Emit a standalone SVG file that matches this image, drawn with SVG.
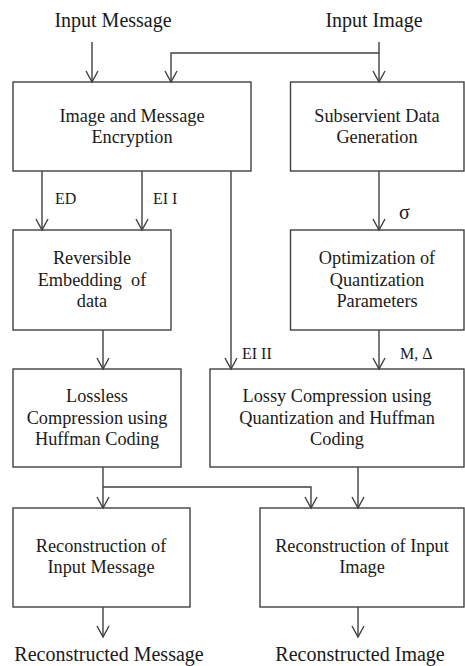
<svg xmlns="http://www.w3.org/2000/svg" width="465" height="666" viewBox="0 0 465 666" font-family="Liberation Serif, serif">
  <style>
    .box { fill: #ffffff; stroke: #404040; stroke-width: 1.4; }
    .wire { fill: none; stroke: #404040; stroke-width: 1.4; }
    .arrow { marker-end: url(#arr); }
    text { fill: #1a1a1a; font-family: "Liberation Serif", serif; }
    .lbl { font-size: 18.3px; text-anchor: middle; }
    .io { font-size: 20px; text-anchor: middle; }
    .tag { font-size: 16px; }
    .sigma { font-size: 20px; }
  </style>
  <defs>
    <marker id="arr" viewBox="-13 -7 15 14" markerWidth="15" markerHeight="14" refX="0" refY="0" orient="auto" markerUnits="userSpaceOnUse" overflow="visible">
      <path d="M-11,-6 L0,0 L-11,6" fill="none" stroke="#404040" stroke-width="1.4"/>
    </marker>
  </defs>

  <rect width="465" height="666" fill="#ffffff"/>

  <!-- inputs -->
  <g id="input-message"><text class="io" x="113" y="27">Input Message</text></g>
  <g id="input-image"><text class="io" x="374" y="27">Input Image</text></g>

  <!-- processing blocks -->
  <g id="encryption">
    <rect class="box" x="13" y="82" width="238" height="89"/>
    <text class="lbl" x="132" y="122">Image and Message</text>
    <text class="lbl" x="132" y="143">Encryption</text>
  </g>
  <g id="subservient">
    <rect class="box" x="290.5" y="82" width="173.5" height="89"/>
    <text class="lbl" x="377" y="122">Subservient Data</text>
    <text class="lbl" x="377" y="143">Generation</text>
  </g>
  <g id="embedding">
    <rect class="box" x="13" y="230" width="158" height="100"/>
    <text class="lbl" x="92" y="264">Reversible</text>
    <text class="lbl" x="92" y="286" xml:space="preserve">Embedding  of</text>
    <text class="lbl" x="92" y="307">data</text>
  </g>
  <g id="optimization">
    <rect class="box" x="290.5" y="230" width="173.5" height="100"/>
    <text class="lbl" x="377" y="264">Optimization of</text>
    <text class="lbl" x="377" y="286">Quantization</text>
    <text class="lbl" x="377" y="307">Parameters</text>
  </g>
  <g id="lossless">
    <rect class="box" x="13" y="369" width="168" height="98"/>
    <text class="lbl" x="97" y="402">Lossless</text>
    <text class="lbl" x="97" y="424">Compression using</text>
    <text class="lbl" x="97" y="445">Huffman Coding</text>
  </g>
  <g id="lossy">
    <rect class="box" x="210" y="369" width="254" height="98"/>
    <text class="lbl" x="337" y="402">Lossy Compression using</text>
    <text class="lbl" x="337" y="424">Quantization and Huffman</text>
    <text class="lbl" x="337" y="445">Coding</text>
  </g>
  <g id="rec-message">
    <rect class="box" x="13" y="508" width="177" height="99"/>
    <text class="lbl" x="101" y="552">Reconstruction of</text>
    <text class="lbl" x="101" y="573">Input Message</text>
  </g>
  <g id="rec-image">
    <rect class="box" x="260" y="508" width="204" height="99"/>
    <text class="lbl" x="362" y="552">Reconstruction of Input</text>
    <text class="lbl" x="362" y="573">Image</text>
  </g>

  <!-- outputs -->
  <g id="out-message"><text class="io" x="109" y="661">Reconstructed Message</text></g>
  <g id="out-image"><text class="io" x="360" y="661">Reconstructed Image</text></g>

  <!-- connectors -->
  <g id="connectors">
    <path class="wire arrow" d="M92,42 V82"/>
    <path class="wire arrow" d="M379,42 V82"/>
    <path class="wire arrow" d="M379,53 H171 V82"/>
    <path class="wire arrow" d="M42,171 V230"/>
    <path class="wire arrow" d="M142,171 V230"/>
    <path class="wire arrow" d="M231,171 V369"/>
    <path class="wire arrow" d="M379,171 V230"/>
    <path class="wire arrow" d="M103,330 V369"/>
    <path class="wire arrow" d="M379,330 V369"/>
    <path class="wire arrow" d="M103,467 V508"/>
    <path class="wire arrow" d="M103,487 H311 V508"/>
    <path class="wire arrow" d="M358,467 V508"/>
    <path class="wire arrow" d="M103,607 V637"/>
    <path class="wire arrow" d="M358,607 V637"/>
  </g>

  <!-- connector labels -->
  <g id="labels">
    <text class="tag" x="55" y="204">ED</text>
    <text class="tag" x="153" y="204">EI I</text>
    <text class="sigma" x="399" y="219">σ</text>
    <text class="tag" x="242" y="359">EI II</text>
    <text class="tag" x="400" y="359">M, Δ</text>
  </g>
</svg>
